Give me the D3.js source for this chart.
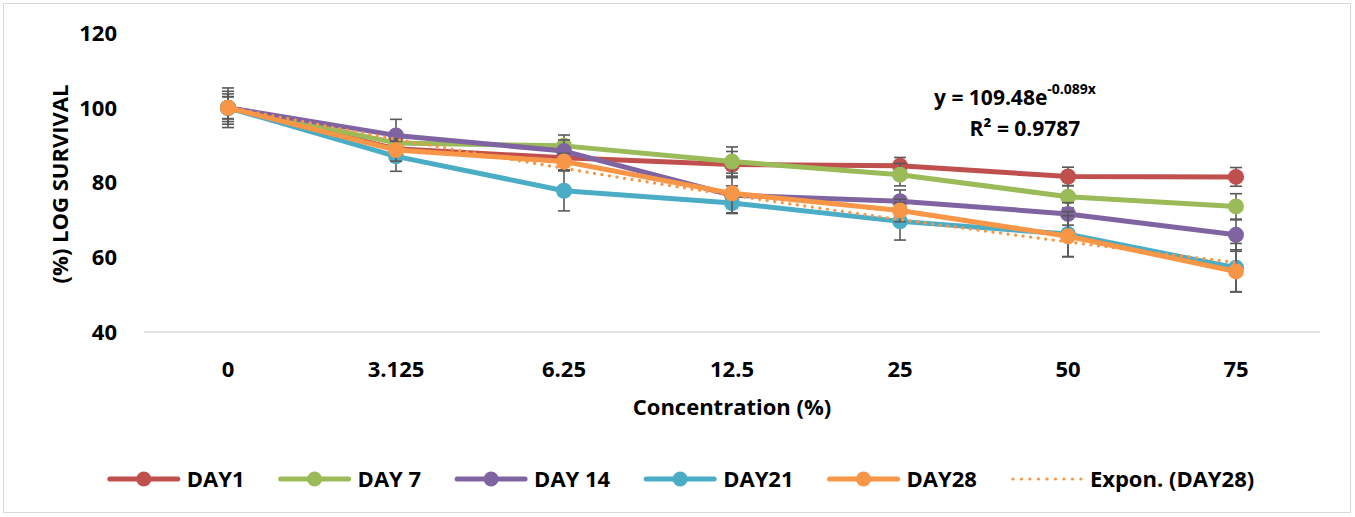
<!DOCTYPE html>
<html>
<head>
<meta charset="utf-8">
<script src="https://cdn.jsdelivr.net/npm/d3@7"></script>
<style>
  html, body { margin: 0; padding: 0; background: #fff; }
  svg { display: block; }
  text { font-family: "Open Sans", Lato, sans-serif; font-weight: bold; fill: #000; }
</style>
</head>
<body>
<svg id="chart" width="1355" height="517"></svg>
<script>
// ---- data ----
const categories = ["0", "3.125", "6.25", "12.5", "25", "50", "75"];
const seriesNames = ["DAY1", "DAY 7", "DAY 14", "DAY21", "DAY28"];
const day1  = [100, 89.0, 86.6, 84.8, 84.5, 81.6, 81.5];
const day7  = [100, 90.6, 89.8, 85.6, 82.1, 76.2, 73.6];
const day14 = [100, 92.6, 88.4, 76.6, 75.0, 71.6, 66.0];
const day21 = [100, 87.0, 77.8, 74.5, 69.6, 66.2, 57.2];
const day28 = [100, 88.7, 85.6, 77.1, 72.5, 65.6, 56.2];
const err1  = [3.0, 2.5, 3.5, 3.5, 2.2, 2.5, 2.5];
const err7  = [3.7, 2.5, 2.9, 3.9, 3.0, 3.0, 3.4];
const err14 = [4.4, 4.3, 3.0, 2.5, 3.0, 3.0, 4.0];
const err21 = [5.3, 4.0, 5.4, 2.6, 5.0, 6.0, 6.5];
const err28 = [2.9, 3.0, 2.2, 5.4, 3.0, 5.5, 5.4];
const trend28 = [100.2, 91.6, 83.8, 76.6, 70.1, 64.1, 58.6];
const trendLabel = "Expon. (DAY28)";
const yTicks = [40, 60, 80, 100, 120];
const colors = ["#C0504D", "#9BBB59", "#8064A2", "#4BACC6", "#F79646"];

const seriesValues = [day1, day7, day14, day21, day28];
const seriesErrors = [err1, err7, err14, err21, err28];

// ---- layout ----
const FS = 22;
const svg = d3.select("#chart");
svg.append("rect").attr("x", 3.5).attr("y", 3.5).attr("width", 1347).attr("height", 509)
  .attr("fill", "#fff").attr("stroke", "#d9d9d9").attr("stroke-width", 1);

const x = d3.scaleBand().domain(categories).range([144, 1320]);
const y = d3.scaleLinear().domain([40, 120]).range([332, 33]);
const cx = c => x(c) + x.bandwidth() / 2;

// x axis line
svg.append("line").attr("x1", 144).attr("x2", 1320).attr("y1", y(40)).attr("y2", y(40))
  .attr("stroke", "#d9d9d9").attr("stroke-width", 1.3);

// y tick labels
svg.append("g").selectAll("text").data(yTicks).join("text")
  .attr("x", 117).attr("y", d => y(d)).attr("dy", "0.36em")
  .attr("text-anchor", "end").attr("font-size", FS).text(d => d);

// x tick labels
svg.append("g").selectAll("text").data(categories).join("text")
  .attr("x", d => cx(d)).attr("y", 369).attr("dy", "0.36em")
  .attr("text-anchor", "middle").attr("font-size", FS).text(d => d);

// axis titles
svg.append("text").attr("x", 732).attr("y", 407).attr("dy", "0.36em")
  .attr("text-anchor", "middle").attr("font-size", FS).text("Concentration (%)");
svg.append("text").attr("transform", "translate(60,184) rotate(-90)").attr("dy", "0.36em")
  .attr("text-anchor", "middle").attr("font-size", FS).text("(%) LOG SURVIVAL");

// series
const line = d3.line().x((d, i) => cx(categories[i])).y(d => y(d));
seriesValues.forEach((vals, s) => {
  const g = svg.append("g");
  g.append("path").datum(vals).attr("d", line).attr("fill", "none")
    .attr("stroke", colors[s]).attr("stroke-width", 5).attr("stroke-linejoin", "round").attr("stroke-linecap", "round");
  const eb = g.append("g").attr("stroke", "#595959").attr("stroke-width", 1.6);
  vals.forEach((v, i) => {
    const e = seriesErrors[s][i];
    const px = cx(categories[i]);
    eb.append("line").attr("x1", px).attr("x2", px).attr("y1", y(v + e)).attr("y2", y(v - e));
    eb.append("line").attr("x1", px - 6).attr("x2", px + 6).attr("y1", y(v + e)).attr("y2", y(v + e));
    eb.append("line").attr("x1", px - 6).attr("x2", px + 6).attr("y1", y(v - e)).attr("y2", y(v - e));
  });
  g.selectAll("circle").data(vals).join("circle")
    .attr("cx", (d, i) => cx(categories[i])).attr("cy", d => y(d)).attr("r", 8)
    .attr("fill", colors[s]);
});

// trendline
const tline = d3.line().x((d, i) => cx(categories[i])).y(d => y(d)).curve(d3.curveMonotoneX);
svg.append("path").datum(trend28).attr("d", tline).attr("fill", "none")
  .attr("stroke", colors[4]).attr("stroke-width", 3.2).attr("stroke-linecap", "round")
  .attr("stroke-dasharray", "0.1 7.5");

// equation
const eq = svg.append("text").attr("x", 934).attr("y", 97).attr("dy", "0.36em").attr("font-size", 21);
eq.append("tspan").text("y = 109.48e");
eq.append("tspan").attr("font-size", 14).attr("dy", "-0.75em").text("-0.089x");
svg.append("text").attr("x", 1025).attr("y", 128).attr("dy", "0.36em").attr("text-anchor", "middle")
  .attr("font-size", 21).text("R² = 0.9787");

// legend
const legendItems = seriesNames.map((n, i) => ({ name: n, color: colors[i], trend: false }))
  .concat([{ name: trendLabel, color: colors[4], trend: true }]);
const lg = svg.append("g");
let lx = 0;
const ly = 479;
const lineLen = 72, gapText = 7, gapItem = 34;
legendItems.forEach(item => {
  const g = lg.append("g").attr("transform", `translate(${lx},0)`);
  if (item.trend) {
    g.append("line").attr("x1", 2).attr("x2", lineLen - 2).attr("y1", ly).attr("y2", ly)
      .attr("stroke", item.color).attr("stroke-width", 3.2).attr("stroke-linecap", "round")
      .attr("stroke-dasharray", "0.1 8.4");
  } else {
    g.append("line").attr("x1", 2).attr("x2", lineLen - 2).attr("y1", ly).attr("y2", ly)
      .attr("stroke", item.color).attr("stroke-width", 5).attr("stroke-linecap", "round");
    g.append("circle").attr("cx", lineLen / 2).attr("cy", ly).attr("r", 7.5).attr("fill", item.color);
  }
  const t = g.append("text").attr("x", lineLen + gapText).attr("y", ly).attr("dy", "0.36em")
    .attr("font-size", FS).text(item.name);
  lx += lineLen + gapText + t.node().getComputedTextLength() + gapItem;
});
const totalW = lx - gapItem;
lg.attr("transform", `translate(${681 - totalW / 2},0)`);
</script>
</body>
</html>
